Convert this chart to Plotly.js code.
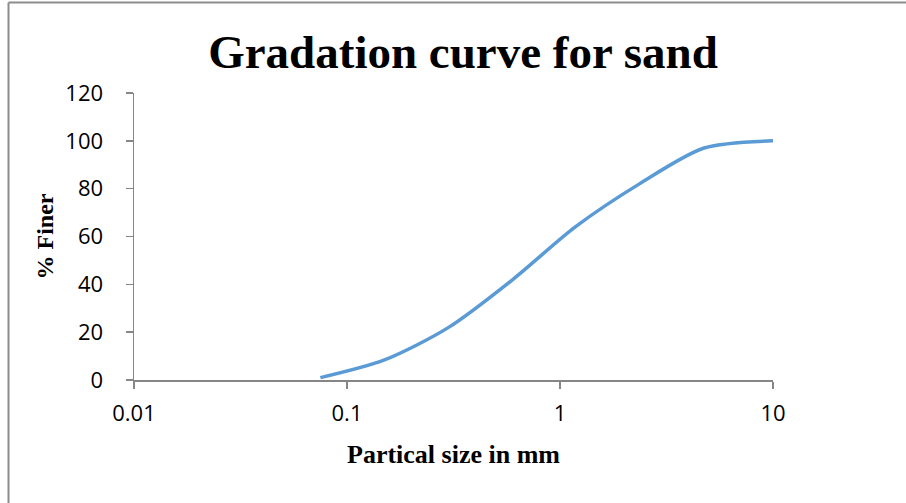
<!DOCTYPE html>
<html>
<head>
<meta charset="utf-8">
<script src="https://cdn.plot.ly/plotly-3.0.1.min.js"></script>
<style>
html,body{margin:0;padding:0;background:#fff;}
#chart{width:906px;height:503px;}
</style>
</head>
<body>
<div id="chart"></div>
<script>
// Data
const particleSize = [0.075, 0.15, 0.3, 0.6, 1.18, 2.36, 4.75, 10];
const percentFiner = [1, 8.4, 22, 42, 64, 82, 97, 100];
const xTickVals = [0.01, 0.1, 1, 10];
const xTickText = ['0.01', '0.1', '1', '10'];
const yTickVals = [0, 20, 40, 60, 80, 100, 120];

const L = 134, R = 773, T = 93, B = 380, W = 906, H = 503;
const pw = R - L, ph = B - T;
const px = v => (v - L) / pw;
const py = v => (B - v) / ph;

const trace = {
  x: particleSize,
  y: percentFiner,
  type: 'scatter',
  mode: 'lines',
  line: {color: '#5B9BD5', width: 3.5, shape: 'spline', smoothing: 0.8},
  hoverinfo: 'x+y'
};

const axisColor = '#868686';
const layout = {
  width: W, height: H,
  margin: {l: L, r: W - R, t: T, b: H - B, pad: 0},
  paper_bgcolor: '#ffffff',
  plot_bgcolor: '#ffffff',
  showlegend: false,
  title: {
    text: '<b>Gradation curve for sand</b>',
    font: {family: 'Liberation Serif, Times New Roman, serif', size: 47, color: '#000'},
    x: px(463), xref: 'paper', xanchor: 'center',
    y: 1 - 52 / H, yref: 'container', yanchor: 'middle'
  },
  xaxis: {
    type: 'log',
    range: [-2, 1],
    tickvals: xTickVals,
    ticktext: xTickText,
    ticks: 'outside', ticklen: 7, tickwidth: 1.5, tickcolor: axisColor,
    showline: true, linecolor: axisColor, linewidth: 1.5,
    showgrid: false, zeroline: false,
    ticklabelstandoff: 6,
    tickfont: {family: 'Open Sans, sans-serif', size: 22, color: '#000'},
    title: {
      text: '<b>Partical size in mm</b>',
      font: {family: 'Liberation Serif, Times New Roman, serif', size: 26, color: '#000'},
      standoff: 19
    }
  },
  yaxis: {
    range: [0, 120],
    tickvals: yTickVals,
    ticks: 'outside', ticklen: 7, tickwidth: 1.5, tickcolor: axisColor,
    showline: true, linecolor: axisColor, linewidth: 1.5,
    showgrid: false, zeroline: false,
    ticklabelstandoff: 18,
    tickfont: {family: 'Open Sans, sans-serif', size: 22, color: '#000'},
    title: {
      text: '<b>% Finer</b>',
      font: {family: 'Liberation Serif, Times New Roman, serif', size: 24, color: '#000'},
      standoff: 5
    }
  },
  shapes: [
    {type: 'line', xref: 'paper', yref: 'paper', x0: px(8.5), x1: px(8.5), y0: py(510), y1: py(2.5),
     line: {color: '#8c8c8c', width: 2}},
    {type: 'line', xref: 'paper', yref: 'paper', x0: px(8.5), x1: px(910), y0: py(2.5), y1: py(2.5),
     line: {color: '#8c8c8c', width: 2}}
  ]
};

Plotly.newPlot('chart', [trace], layout, {displayModeBar: false, staticPlot: true});
</script>
</body>
</html>
